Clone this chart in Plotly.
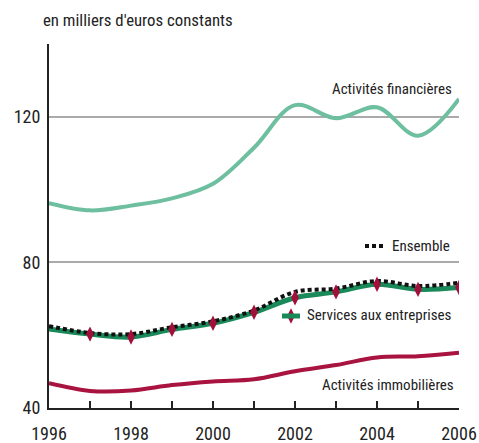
import plotly.graph_objects as go

years = list(range(1996, 2007))
financieres = [96.3, 94.3, 95.6, 97.6, 101.6, 111.5, 123.2, 119.6, 122.6, 114.8, 124.9]
ensemble = [62.5, 60.6, 60.3, 62.2, 63.8, 66.8, 71.9, 72.8, 74.9, 73.5, 74.4]
services = [61.7, 60.3, 59.5, 61.6, 63.3, 66.3, 70.3, 71.9, 74.0, 72.6, 73.1]
immobilieres = [46.8, 44.7, 44.8, 46.3, 47.3, 47.9, 50.1, 51.8, 53.9, 54.2, 55.2]

x_ticks = [1996, 1998, 2000, 2002, 2004, 2006]
y_ticks = [40, 80, 120]

FONT = "Roboto Condensed, DejaVu Sans Condensed, Liberation Sans Narrow, sans-serif"
C_FIN = "#6dbf9f"
C_SERV = "#1b8a5a"
C_IMMO = "#a8133f"
C_MARK = "#a0103a"

W, H = 479, 443
PL, PR, PT, PB = 49, 459, 44, 408
PW, PH = PR - PL, PB - PT

def px(xp):
    return (xp - PL) / PW

def py(yp):
    return (PB - yp) / PH

DOT = "4px,3px"

fig = go.Figure()
fig.add_trace(go.Scatter(x=years, y=financieres, mode="lines", line=dict(color=C_FIN, width=4, shape="spline"), showlegend=False))
fig.add_trace(go.Scatter(x=years, y=immobilieres, mode="lines", line=dict(color=C_IMMO, width=4, shape="spline"), showlegend=False))
fig.add_trace(go.Scatter(x=years, y=services, mode="lines", line=dict(color=C_SERV, width=5, shape="spline"), showlegend=False))
fig.add_trace(go.Scatter(x=years, y=ensemble, mode="lines", line=dict(color="#111111", width=4, dash=DOT, shape="spline"), showlegend=False))
fig.add_trace(go.Scatter(x=years[1:], y=services[1:], mode="markers",
                         marker=dict(symbol="diamond-tall", size=11, color=C_MARK), showlegend=False))

# legend samples
fig.add_shape(type="line", xref="paper", yref="paper", x0=px(365), x1=px(384),
              y0=py(246), y1=py(246), line=dict(color="#111111", width=4, dash=DOT))
fig.add_shape(type="line", xref="paper", yref="paper", x0=px(282), x1=px(300),
              y0=py(316), y1=py(316), line=dict(color=C_SERV, width=5))
fig.add_trace(go.Scatter(x=[1996 + px(291) * 10], y=[40 + py(316) * 100], mode="markers",
                         marker=dict(symbol="diamond-tall", size=11, color=C_MARK), showlegend=False))

def label(text, xr, yp):
    fig.add_annotation(text=text, xref="paper", yref="paper", x=px(xr), y=py(yp),
                       xanchor="right", yanchor="middle", showarrow=False,
                       font=dict(family=FONT, size=15, color="#222222"))

label("Activités financières", 454, 89)
label("Ensemble", 452, 246)
label("Services aux entreprises", 454, 315)
label("Activités immobilières", 456, 385)

fig.add_annotation(text="en milliers d'euros constants", xref="paper", yref="paper",
                   x=px(41), y=py(20), xanchor="left", yanchor="middle", showarrow=False,
                   font=dict(family=FONT, size=16.8, color="#222222"))

fig.update_layout(
    width=W, height=H,
    margin=dict(l=PL, r=W - PR, t=PT, b=H - PB, autoexpand=False),
    plot_bgcolor="white", paper_bgcolor="white",
    font=dict(family=FONT, size=17, color="#222222"),
    xaxis=dict(range=[1996, 2006], tickvals=x_ticks, ticktext=[str(v) for v in x_ticks],
               showgrid=False, zeroline=False, showline=True, linecolor="#222222", linewidth=2,
               ticks="inside", ticklen=7, tickcolor="#222222", tickwidth=1.5,
               minor=dict(dtick=1, tick0=1996, ticks="inside", ticklen=7, tickcolor="#222222", tickwidth=1.5),
               tickfont=dict(size=18), ticklabelstandoff=8),
    yaxis=dict(range=[40, 140], tickvals=y_ticks, ticktext=[str(v) for v in y_ticks],
               showgrid=True, gridcolor="#aaaaaa", gridwidth=1.5, zeroline=False,
               showline=True, linecolor="#222222", linewidth=2, ticks="", tickfont=dict(size=18),
               ticklabelstandoff=3),
)

fig.write_html("out.html", config={"displayModeBar": False},
               post_script="document.body.style.margin='0';document.body.style.overflow='hidden';")
